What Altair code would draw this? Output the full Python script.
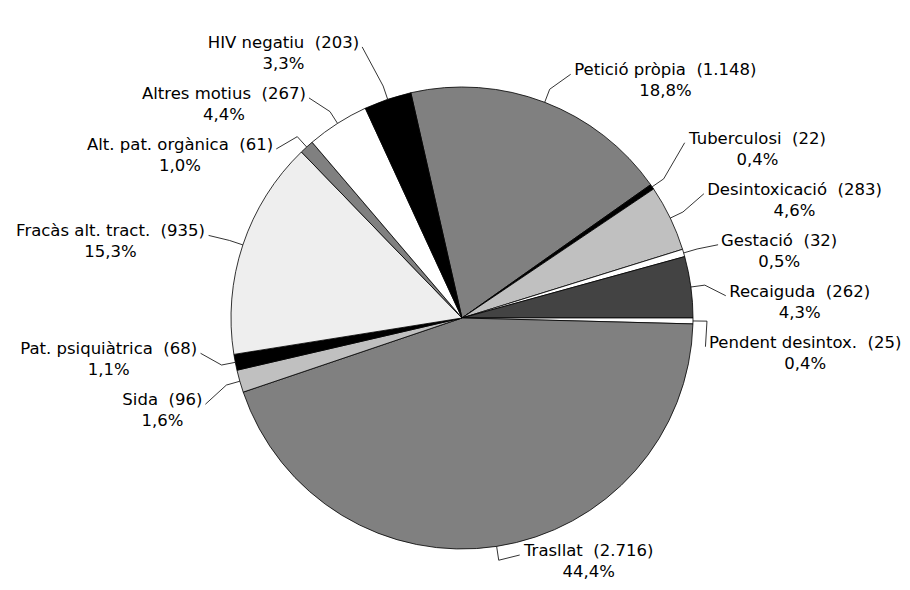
import math
import altair as alt
import pandas as pd

# ---------------- data ----------------
categories = ["Petició pròpia", "Tuberculosi", "Desintoxicació", "Gestació", "Recaiguda",
              "Pendent desintox.", "Trasllat", "Sida", "Pat. psiquiàtrica",
              "Fracàs alt. tract.", "Alt. pat. orgànica", "Altres motius", "HIV negatiu"]
counts = [1148, 22, 283, 32, 262, 25, 2716, 96, 68, 935, 61, 267, 203]
count_labels = ["1.148", "22", "283", "32", "262", "25", "2.716", "96", "68", "935", "61", "267", "203"]
percent_labels = ["18,8%", "0,4%", "4,6%", "0,5%", "4,3%", "0,4%", "44,4%", "1,6%", "1,1%",
                  "15,3%", "1,0%", "4,4%", "3,3%"]
colors = ["#808080", "#000000", "#c0c0c0", "#ffffff", "#434343", "#ffffff", "#808080",
          "#c0c0c0", "#000000", "#eeeeee", "#808080", "#ffffff", "#000000"]

# ---------------- layout ----------------
W, H = 894, 574
CX, CY = 454, 310
R = 231
START = 2 * math.pi - math.radians(12.8)
FONT = "DejaVu Sans"
FS = 16.5
LINE_GAP = 21
LABEL_GAP = 51

CHAR_W = {" ": .318, "\u00a0": .318, "(": .390, ")": .390, ".": .318, ",": .318, "%": .950,
          "a": .613, "à": .613, "b": .635, "c": .550, "d": .635, "e": .615, "g": .635,
          "i": .278, "l": .278, "m": .974, "n": .634, "o": .612, "ó": .612, "ò": .612,
          "p": .635, "q": .635, "r": .411, "s": .521, "t": .392, "u": .634, "x": .592,
          "A": .684, "F": .575, "G": .775, "H": .752, "I": .295, "P": .603, "R": .695,
          "S": .635, "T": .611, "V": .684, "D": .770}
for d in "0123456789":
    CHAR_W[d] = .636


def text_width(s):
    return sum(CHAR_W.get(ch, .6) for ch in s) * FS


def spread(vals, gap):
    groups = [[v] for v in vals]

    def pos(g):
        m = sum(g) / len(g)
        n = len(g)
        return [m - (n - 1) * gap / 2 + k * gap for k in range(n)]

    merged = True
    while merged:
        merged = False
        for i in range(len(groups) - 1):
            a, b = pos(groups[i]), pos(groups[i + 1])
            if b[0] - a[-1] < gap:
                groups[i] = groups[i] + groups[i + 1]
                del groups[i + 1]
                merged = True
                break
    out = []
    for g in groups:
        out += pos(g)
    return out


total = sum(counts)
info = []
cum = 0
for i, (name, c) in enumerate(zip(categories, counts)):
    a = START + 2 * math.pi * (cum + c / 2) / total
    cum += c
    s, co = math.sin(a), math.cos(a)
    line1 = f"{name}\u00a0\u00a0({count_labels[i]})"
    info.append(dict(i=i, name=name, s=s, c=co, side="R" if s >= 0 else "L",
                     line1=line1, line2=percent_labels[i], w=text_width(line1),
                     ay0=-(R + 30) * co))

for side in ("R", "L"):
    items = sorted([d for d in info if d["side"] == side], key=lambda d: d["ay0"])
    ys = spread([d["ay0"] for d in items], LABEL_GAP)
    for d, y in zip(items, ys):
        d["ay"] = max(-CY + 22, min(H - CY - 27, y))

line_rows, text_rows = [], []
for d in info:
    p0 = (R * d["s"], -R * d["c"])
    p1 = ((R + 14) * d["s"], -(R + 14) * d["c"])
    if d["side"] == "R":
        sx = min(p1[0] + 24, (W - CX) - d["w"])
        tx = sx + d["w"] / 2
        p2 = (sx - 3, d["ay"])
    else:
        ex = max(p1[0] - 24, -CX + 2 + d["w"])
        tx = ex - d["w"] / 2
        p2 = (ex + 3, d["ay"])
    for k, p in enumerate((p0, p1, p2)):
        line_rows.append(dict(name=d["name"], pt=k, x=p[0], y=p[1]))
    text_rows.append(dict(name=d["name"], tx=tx, y1=d["ay"] - 4, y2=d["ay"] - 4 + LINE_GAP,
                          line1=d["line1"], line2=d["line2"]))

df_pie = pd.DataFrame({"name": categories, "count": counts, "idx": list(range(len(counts)))})
df_lines = pd.DataFrame(line_rows)
df_text = pd.DataFrame(text_rows)

xs = alt.Scale(domain=[-CX, W - CX], range=[0, W])
ys_ = alt.Scale(domain=[-CY, H - CY], range=[0, H])

pie = alt.Chart(df_pie).mark_arc(radius=R, stroke="black", strokeWidth=0.8).encode(
    theta=alt.Theta("count:Q", stack=True,
                    scale=alt.Scale(range=[START, START + 2 * math.pi])),
    color=alt.Color("name:N", scale=alt.Scale(domain=categories, range=colors), legend=None),
    order=alt.Order("idx:Q"),
    x=alt.value(CX),
    y=alt.value(CY),
)

lines = alt.Chart(df_lines).mark_line(color="black", strokeWidth=0.8).encode(
    x=alt.X("x:Q", scale=xs, axis=None),
    y=alt.Y("y:Q", scale=ys_, axis=None),
    detail="name:N",
    order="pt:Q",
)

t1 = alt.Chart(df_text).mark_text(font=FONT, fontSize=FS, align="center", baseline="middle",
                                  color="black").encode(
    x=alt.X("tx:Q", scale=xs, axis=None),
    y=alt.Y("y1:Q", scale=ys_, axis=None),
    text="line1:N",
)
t2 = alt.Chart(df_text).mark_text(font=FONT, fontSize=FS, align="center", baseline="middle",
                                  color="black").encode(
    x=alt.X("tx:Q", scale=xs, axis=None),
    y=alt.Y("y2:Q", scale=ys_, axis=None),
    text="line2:N",
)

chart = alt.layer(pie, lines, t1, t2).properties(
    width=W, height=H, padding=0,
    autosize=alt.AutoSizeParams(type="none"),
).configure_view(stroke=None)

chart.save("out.html", embed_options={"renderer": "svg", "actions": False})
